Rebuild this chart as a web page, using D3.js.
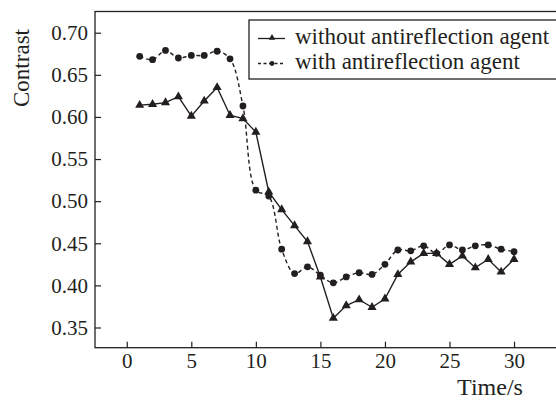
<!DOCTYPE html>
<html><head><meta charset="utf-8">
<script src="https://cdn.jsdelivr.net/npm/d3@7"></script>
<style>
html,body{margin:0;padding:0;background:#fff;}
svg{display:block;}
text{font-family:"Liberation Serif","Times New Roman",serif;fill:#231f20;}
</style></head>
<body>
<script>
const time = d3.range(1, 31);
const withoutAgent = [0.614,0.615,0.617,0.624,0.601,0.619,0.635,0.602,0.598,0.582,
  0.511,0.490,0.471,0.452,0.410,0.361,0.376,0.383,0.374,0.384,
  0.413,0.428,0.438,0.438,0.425,0.435,0.421,0.431,0.416,0.431];
const withAgent = [0.672,0.668,0.679,0.670,0.673,0.673,0.678,0.669,0.613,0.513,
  0.506,0.443,0.414,0.422,0.412,0.403,0.410,0.415,0.413,0.425,
  0.442,0.441,0.447,0.438,0.448,0.442,0.447,0.448,0.443,0.440];
const xTicks = [0,5,10,15,20,25,30];
const yTicks = [0.35,0.40,0.45,0.50,0.55,0.60,0.65,0.70];
const seriesNames = ["without antireflection agent","with antireflection agent"];

(function(){
const W = 556, H = 402;
const svg = d3.select("body").append("svg").attr("width", W).attr("height", H);
const pL = 95, pR = 560, pT = 11.5, pB = 347.7;
const x = d3.scaleLinear().domain([-2.46, 33.56]).range([pL, pR]);
const y = d3.scaleLinear().domain([0.326, 0.7252]).range([pB, pT]);
const ink = "#231f20";
const serif = "'Liberation Serif','Times New Roman',serif";

svg.append("rect").attr("x", pL).attr("y", pT).attr("width", pR-pL).attr("height", pB-pT)
  .attr("fill","none").attr("stroke", ink).attr("stroke-width",1.3);

const xAxis = d3.axisBottom(x).tickValues(xTicks).tickSize(-6).tickPadding(5.7).tickFormat(d3.format("d"));
const gx = svg.append("g").attr("transform",`translate(0,${pB})`).call(xAxis);
const yAxis = d3.axisLeft(y).tickValues(yTicks).tickSize(-6).tickPadding(7).tickFormat(d3.format(".2f"));
const gy = svg.append("g").attr("transform",`translate(${pL},0)`).call(yAxis);
[gx,gy].forEach(g=>{
  g.attr("font-family", serif).attr("font-size", 21);
  g.select(".domain").remove();
  g.selectAll(".tick line").attr("stroke", ink).attr("stroke-width",1.2);
  g.selectAll(".tick text").attr("fill", ink).attr("font-family", serif).attr("font-size", 21);
});

const lineSolid = d3.line().x((d,i)=>x(time[i])).y(d=>y(d));
const lineDash = d3.line().x((d,i)=>x(time[i])).y(d=>y(d)).curve(d3.curveCatmullRom.alpha(0.5));
svg.append("path").attr("d", lineSolid(withoutAgent)).attr("fill","none").attr("stroke", ink).attr("stroke-width",1.4);
svg.append("path").attr("d", lineDash(withAgent)).attr("fill","none").attr("stroke", ink).attr("stroke-width",1.4).attr("stroke-dasharray","4,3");

const tri = d3.symbol().type(d3.symbolTriangle).size(36);
svg.append("g").selectAll("path").data(withoutAgent).join("path")
  .attr("d", tri).attr("transform",(d,i)=>`translate(${x(time[i])},${y(d)})`).attr("fill", ink);
svg.append("g").selectAll("circle").data(withAgent).join("circle")
  .attr("cx",(d,i)=>x(time[i])).attr("cy",d=>y(d)).attr("r",3.4).attr("fill", ink);

const lg = svg.append("g");
lg.append("rect").attr("x",249).attr("y",20).attr("width",320).attr("height",59)
  .attr("fill","#fff").attr("stroke", ink).attr("stroke-width",1.3);
const rows = [38.5, 63.5];
lg.append("line").attr("x1",258).attr("x2",285).attr("y1",rows[0]).attr("y2",rows[0]).attr("stroke",ink).attr("stroke-width",1.3);
lg.append("path").attr("d", d3.symbol().type(d3.symbolTriangle).size(18)).attr("transform",`translate(272,${rows[0]-0.7})`).attr("fill",ink);
lg.append("line").attr("x1",258).attr("x2",285).attr("y1",rows[1]).attr("y2",rows[1]).attr("stroke",ink).attr("stroke-width",1.3).attr("stroke-dasharray","3,2.5");
lg.append("circle").attr("cx",272).attr("cy",rows[1]).attr("r",2.4).attr("fill",ink);
seriesNames.forEach((n,i)=>{
  lg.append("text").attr("x",295).attr("y",rows[i]+5).attr("font-size",23).text(n);
});

svg.append("text").attr("transform","translate(28.5,68) rotate(-90)").attr("text-anchor","middle")
  .attr("font-size",23).text("Contrast");
svg.append("text").attr("x",490).attr("y",395).attr("text-anchor","middle")
  .attr("font-size",24).text("Time/s");
})();
</script>
</body></html>
